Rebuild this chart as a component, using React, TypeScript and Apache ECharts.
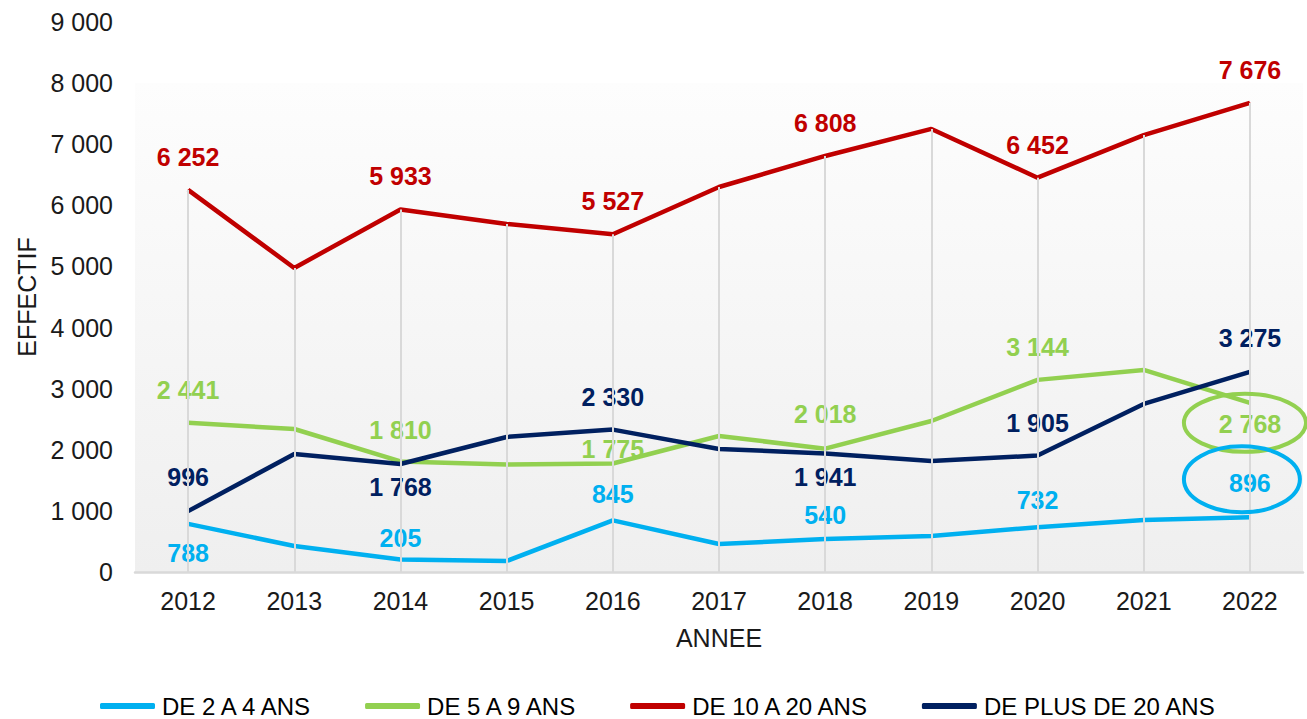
import React, { useEffect, useRef } from "react";
import * as echarts from "echarts";

const categories = ["2012", "2013", "2014", "2015", "2016", "2017", "2018", "2019", "2020", "2021", "2022"];
const de2a4 = [788, 425, 205, 180, 845, 458, 540, 590, 732, 851, 896];
const de5a9 = [2441, 2340, 1810, 1760, 1775, 2226, 2018, 2471, 3144, 3306, 2768];
const de10a20 = [6252, 4975, 5933, 5695, 5527, 6300, 6808, 7250, 6452, 7150, 7676];
const dePlus20 = [996, 1931, 1768, 2210, 2330, 2013, 1941, 1817, 1905, 2750, 3275];
const seriesNames = ["DE 2 A 4 ANS", "DE 5 A 9 ANS", "DE 10 A 20 ANS", "DE PLUS DE 20 ANS"];
const yTicks = { min: 0, max: 9000, interval: 1000 };

// label placement (style): index -> [position, distance]
const labelsBlue: Record<number, [string, number]> = { 0: ["bottom", 16], 2: ["top", 8], 4: ["top", 13], 6: ["top", 11], 8: ["top", 14], 10: ["top", 21] };
const labelsGreen: Record<number, [string, number]> = { 0: ["top", 20], 2: ["top", 18], 4: ["top", 2], 6: ["top", 22], 8: ["top", 20], 10: ["bottom", 8] };
const labelsRed: Record<number, [string, number]> = { 0: ["top", 20], 2: ["top", 20], 4: ["top", 20], 6: ["top", 20], 8: ["top", 20], 10: ["top", 20] };
const labelsNavy: Record<number, [string, number]> = { 0: ["top", 21], 2: ["bottom", 10], 4: ["top", 20], 6: ["bottom", 11], 8: ["top", 20], 10: ["top", 21] };

const colors = ["#00b0f0", "#92d050", "#c00000", "#002060"];
const FONT = "'Liberation Sans', Arial, sans-serif";

const fmt = (v: number) => String(v).replace(/\B(?=(\d{3})+(?!\d))/g, " ");

function buildData(values: number[], labels: Record<number, [string, number]>, color: string) {
  return values.map((v, i) => {
    const l = labels[i];
    if (!l) return { value: v, label: { show: false } };
    return {
      value: v,
      label: {
        show: true,
        position: l[0],
        distance: l[1],
        color,
        fontFamily: FONT,
        fontWeight: "bold",
        fontSize: 25,
        formatter: (p: any) => fmt(p.value),
      },
    };
  });
}

export default function App() {
  const ref = useRef<HTMLDivElement>(null);
  useEffect(() => {
    document.body.style.margin = "0";
    if (!ref.current) return;
    const chart = echarts.init(ref.current, null, { renderer: "svg" });
    const allSeries = [de2a4, de5a9, de10a20, dePlus20];
    const labelSets = [labelsBlue, labelsGreen, labelsRed, labelsNavy];
    const maxes = categories.map((_, i) => Math.max(...allSeries.map((s) => s[i])));

    const option: any = {
      animation: false,
      backgroundColor: "#ffffff",
      grid: { left: 135, right: 4, top: 22, bottom: 147 },
      legend: {
        data: seriesNames,
        left: 100,
        top: 694,
        padding: 0,
        icon: "roundRect",
        itemWidth: 55,
        itemHeight: 6,
        itemGap: 51,
        textStyle: { fontFamily: FONT, fontSize: 24, color: "#000", padding: [0, 0, 0, 2] },
      },
      xAxis: {
        type: "category",
        data: categories,
        boundaryGap: true,
        name: "ANNEE",
        nameLocation: "middle",
        nameGap: 53,
        nameTextStyle: { fontFamily: FONT, fontSize: 25, color: "#1a1a1a" },
        axisLine: { show: true, lineStyle: { color: "#d9d9d9", width: 2.5 } },
        axisTick: { show: false },
        axisLabel: { margin: 16, fontFamily: FONT, fontSize: 25, color: "#1a1a1a" },
        splitLine: { show: false },
      },
      yAxis: {
        type: "value",
        min: yTicks.min,
        max: yTicks.max,
        interval: yTicks.interval,
        name: "EFFECTIF",
        nameLocation: "middle",
        nameRotate: 90,
        nameGap: 96,
        nameTextStyle: { fontFamily: FONT, fontSize: 25, color: "#1a1a1a" },
        axisLine: { show: false },
        axisTick: { show: false },
        splitLine: { show: false },
        axisLabel: { margin: 22, fontFamily: FONT, fontSize: 25, color: "#1a1a1a", formatter: (v: number) => fmt(v) },
      },
      series: [
        {
          name: "droplines",
          type: "line",
          data: categories.map(() => null),
          z: 1,
          silent: true,
          markLine: {
            silent: true,
            symbol: "none",
            label: { show: false },
            lineStyle: { color: "#d9d9d9", width: 2, type: "solid" },
            data: categories.map((c, i) => [{ coord: [c, 0] }, { coord: [c, maxes[i]] }]),
          },
        },
        ...allSeries.map((vals, k) => ({
          name: seriesNames[k],
          type: "line",
          data: buildData(vals, labelSets[k], colors[k]),
          symbol: "circle",
          symbolSize: 1,
          showSymbol: true,
          z: 3,
          color: colors[k],
          itemStyle: { color: colors[k] },
          lineStyle: { color: colors[k], width: 4.5 },
          labelLayout: { hideOverlap: false },
        })),
      ],
    };
    chart.setOption(option);

    const yTop = chart.convertToPixel({ yAxisIndex: 0 }, 8000) as number;
    const yBot = chart.convertToPixel({ yAxisIndex: 0 }, 0) as number;
    const gp = chart.convertToPixel({ gridIndex: 0 }, [categories[10], de5a9[10]]) as number[];
    const bp = chart.convertToPixel({ gridIndex: 0 }, [categories[10], de2a4[10]]) as number[];
    chart.setOption({
      graphic: [
        {
          type: "rect",
          z: -10,
          silent: true,
          shape: { x: 135, y: yTop, width: 1168, height: yBot - yTop },
          style: {
            fill: new echarts.graphic.LinearGradient(0, 0, 0, 1, [
              { offset: 0, color: "#fdfdfd" },
              { offset: 1, color: "#efefef" },
            ]),
          },
        },
        {
          type: "ellipse",
          z: 100,
          silent: true,
          shape: { cx: gp[0] - 5, cy: gp[1] + 20, rx: 61, ry: 29 },
          style: { fill: "none", stroke: "#92d050", lineWidth: 4 },
        },
        {
          type: "ellipse",
          z: 100,
          silent: true,
          shape: { cx: bp[0] - 8, cy: bp[1] - 38, rx: 58, ry: 33 },
          style: { fill: "none", stroke: "#00b0f0", lineWidth: 4 },
        },
      ],
    });
    return () => chart.dispose();
  }, []);
  return <div ref={ref} style={{ width: 1307, height: 719 }} />;
}
